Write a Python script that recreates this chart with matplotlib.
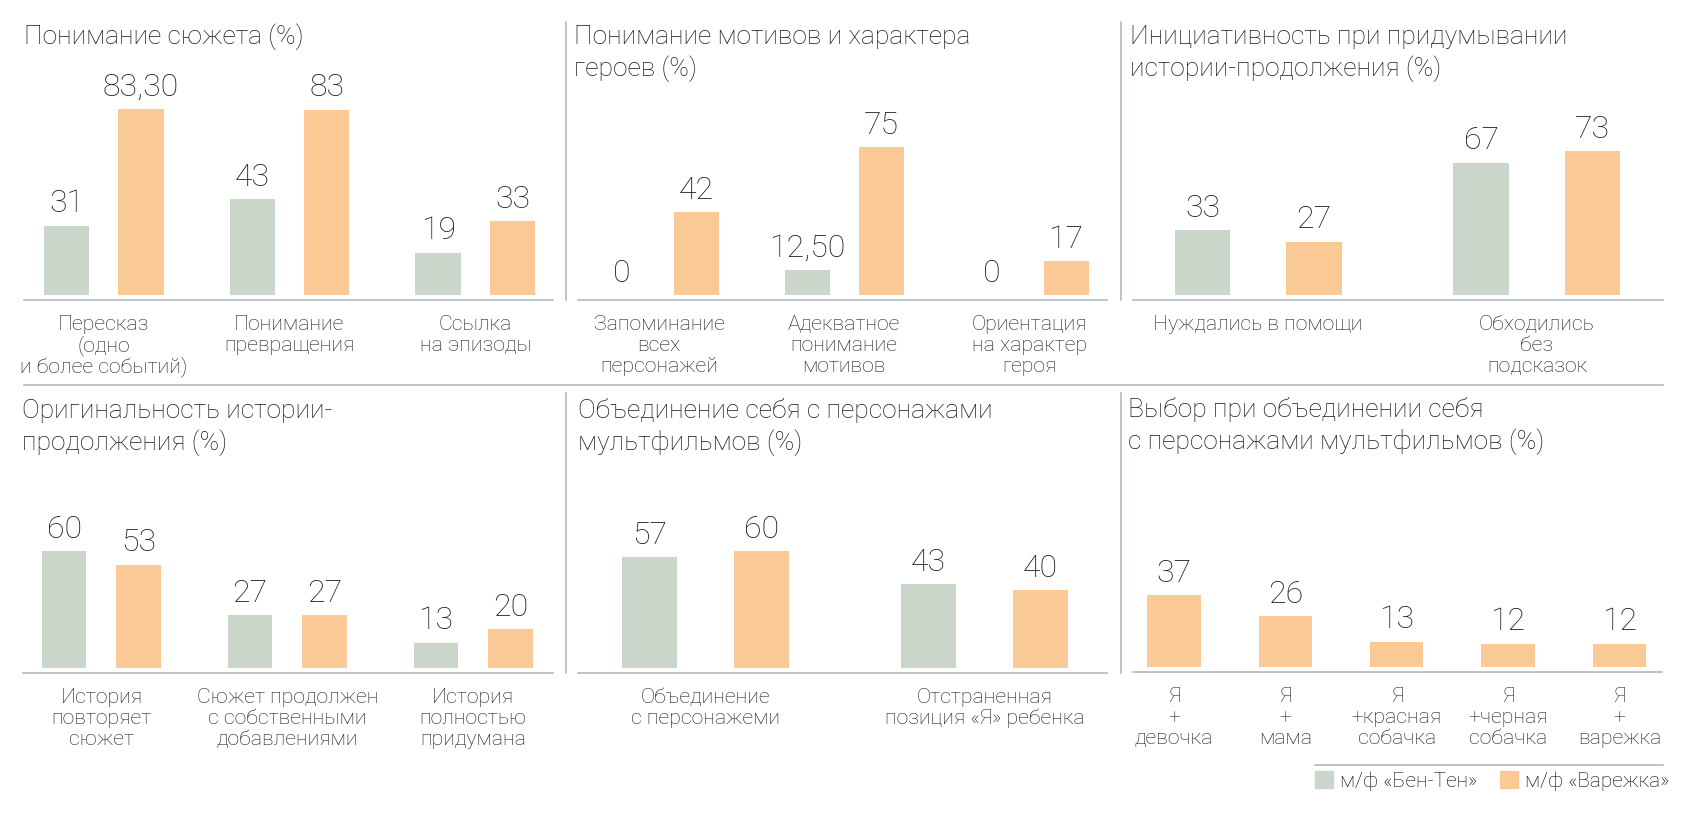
import numpy as np
import matplotlib.pyplot as plt
from matplotlib.lines import Line2D
from matplotlib.patches import Patch

W, H = 1690, 822
plt.rcParams['font.family'] = ['Roboto', 'DejaVu Sans']
plt.rcParams['font.weight'] = 'light'

GREEN = '#cbd6ca'
ORANGE = '#fbc996'
RULE = '#a9b3bc'
INK = '#1a1a1a'

series_names = ['м/ф «Бен-Тен»', 'м/ф «Варежка»']

# --- data ---
title1 = 'Понимание сюжета (%)'
cats1 = ['Пересказ\n(одно\nи более событий)', 'Понимание\nпревращения', 'Ссылка\nна эпизоды']
ben1 = [31, 43, 19]
var1 = [83.3, 83, 33]

title2 = 'Понимание мотивов и характера\nгероев (%)'
cats2 = ['Запоминание\nвсех\nперсонажей', 'Адекватное\nпонимание\nмотивов', 'Ориентация\nна характер\nгероя']
ben2 = [0, 12.5, 0]
var2 = [42, 75, 17]

title3 = 'Инициативность при придумывании\nистории-продолжения (%)'
cats3 = ['Нуждались в помощи', 'Обходились\nбез\nподсказок']
ben3 = [33, 67]
var3 = [27, 73]

title4 = 'Оригинальность истории-\nпродолжения (%)'
cats4 = ['История\nповторяет\nсюжет', 'Сюжет продолжен\nс собственными\nдобавлениями', 'История\nполностью\nпридумана']
ben4 = [60, 27, 13]
var4 = [53, 27, 20]

title5 = 'Объединение себя с персонажами\nмультфильмов (%)'
cats5 = ['Объединение\nс персонажеми', 'Отстраненная\nпозиция «Я» ребенка']
ben5 = [57, 43]
var5 = [60, 40]

title6 = 'Выбор при объединении себя\nс персонажами мультфильмов (%)'
cats6 = ['Я\n+\nдевочка', 'Я\n+\nмама', 'Я\n+красная\nсобачка', 'Я\n+черная\nсобачка', 'Я\n+\nварежка']
var6 = [37, 26, 13, 12, 12]


def fmt(v):
    return str(int(v)) if float(v).is_integer() else f'{v:.2f}'.replace('.', ',')


fig = plt.figure(figsize=(W / 100, H / 100), dpi=100)


def panel(x0, x1, yline, scale, xlim, width, cats, series, title, tx, ty):
    hpx = 240
    gap = 5
    ax = fig.add_axes([x0 / W, 1 - yline / H, (x1 - x0) / W, hpx / H])
    ax.set_xlim(*xlim)
    ax.set_ylim(-gap / scale, (hpx - gap) / scale)
    idx = np.arange(len(cats))
    for vals, color, shift in series:
        xs = idx + shift
        ax.bar(xs, vals, width, color=color, linewidth=0)
        for x, v in zip(xs, vals):
            ax.annotate(fmt(v), (x, v), xytext=(0, 9.6), textcoords='offset points',
                        ha='center', va='baseline', fontsize=23, color=INK)
    for i, lab in enumerate(cats):
        for k, line in enumerate(lab.split('\n')):
            ax.annotate(line, (i, 0), xycoords=('data', 'axes fraction'),
                        xytext=(0, -(30 + 21 * k) * 0.72), textcoords='offset points',
                        ha='center', va='baseline', fontsize=15.3, color=INK)
    for s in ['top', 'left', 'right']:
        ax.spines[s].set_visible(False)
    ax.spines['bottom'].set_color(RULE)
    ax.spines['bottom'].set_linewidth(1.1)
    ax.set_xticks([])
    ax.set_yticks([])
    ax.patch.set_alpha(0)
    for k, line in enumerate(title.split('\n')):
        fig.text(tx / W, 1 - (ty + 32 * k) / H, line, fontsize=19, va='baseline',
                 ha='left', color=INK)
    return ax


panel(24, 553, 300, 2.233, (-0.428, 2.417), 0.245, cats1,
      [(ben1, GREEN, -0.2), (var1, ORANGE, 0.2)], title1, 24, 44)
panel(578, 1107, 300, 1.973, (-0.438, 2.421), 0.243, cats2,
      [(ben2, GREEN, -0.2), (var2, ORANGE, 0.2)], title2, 574, 44)
panel(1133, 1663, 300, 1.973, (-0.449, 1.452), 0.199, cats3,
      [(ben3, GREEN, -0.2), (var3, ORANGE, 0.2)], title3, 1130, 44)
panel(23, 553, 673, 1.95, (-0.422, 2.429), 0.239, cats4,
      [(ben4, GREEN, -0.2), (var4, ORANGE, 0.2)], title4, 22, 418)
panel(578, 1107, 673, 1.95, (-0.457, 1.439), 0.199, cats5,
      [(ben5, GREEN, -0.2), (var5, ORANGE, 0.2)], title5, 578, 418)
panel(1133, 1662, 672, 1.95, (-0.368, 4.381), 0.479, cats6,
      [(var6, ORANGE, 0.0)], title6, 1128, 417)


def rule(xa, ya, xb, yb):
    fig.add_artist(Line2D([xa / W, xb / W], [1 - ya / H, 1 - yb / H],
                          transform=fig.transFigure, color=RULE, linewidth=1.1))


rule(566, 22, 566, 300)
rule(1121, 22, 1121, 300)
rule(566, 393, 566, 673)
rule(1121, 393, 1121, 673)
rule(24, 385, 1663, 385)
rule(1315, 765, 1663, 765)

handles = [Patch(color=GREEN), Patch(color=ORANGE)]
fig.legend(handles, series_names, loc='upper left', bbox_to_anchor=(1315 / W, 1 - 771 / H),
           ncol=2, frameon=False, fontsize=15, handlelength=0.86, handleheight=0.86,
           handletextpad=0.34, columnspacing=1.1, borderaxespad=0, borderpad=0)

plt.savefig('out.png', dpi=100)
